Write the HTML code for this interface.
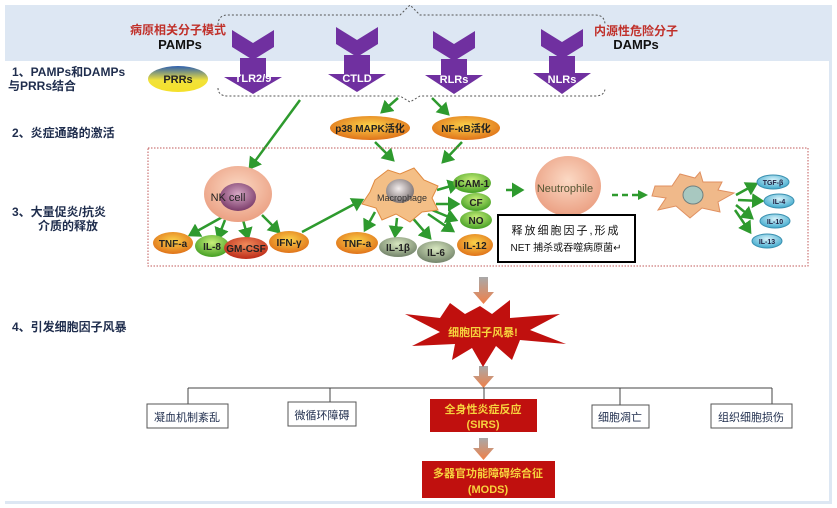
<!DOCTYPE html>
<html><head><meta charset="utf-8"><style>
html,body{margin:0;padding:0;background:#fff;}
svg{display:block;font-family:"Liberation Sans","Noto Sans CJK SC",sans-serif;}
.lbl{font-weight:bold;fill:#1f2d4d;font-size:12px;}
</style></head><body>
<svg width="837" height="508" viewBox="0 0 837 508" xmlns="http://www.w3.org/2000/svg">
<defs>
<marker id="ga" markerWidth="6" markerHeight="6" refX="4" refY="3" orient="auto" markerUnits="strokeWidth"><path d="M0,0 L5,3 L0,6z" fill="#2e9a2e"/></marker>
<linearGradient id="prr" x1="0" y1="0" x2="0" y2="1"><stop offset="0" stop-color="#2d5fb0"/><stop offset="0.55" stop-color="#f2e23a"/><stop offset="1" stop-color="#f4e02a"/></linearGradient>
<radialGradient id="org" cx="0.5" cy="0.4" r="0.6"><stop offset="0" stop-color="#fbd24a"/><stop offset="1" stop-color="#e0731a"/></radialGradient>
<radialGradient id="grn" cx="0.5" cy="0.35" r="0.6"><stop offset="0" stop-color="#c8ef7a"/><stop offset="1" stop-color="#4ea52a"/></radialGradient>
<radialGradient id="red" cx="0.5" cy="0.35" r="0.6"><stop offset="0" stop-color="#f08a5a"/><stop offset="1" stop-color="#c0321e"/></radialGradient>
<radialGradient id="gry" cx="0.5" cy="0.35" r="0.6"><stop offset="0" stop-color="#d8e8c0"/><stop offset="1" stop-color="#7a8a70"/></radialGradient>
<radialGradient id="blu" cx="0.5" cy="0.35" r="0.6"><stop offset="0" stop-color="#d6f2fa"/><stop offset="1" stop-color="#4aaed0"/></radialGradient>
<radialGradient id="cell" cx="0.5" cy="0.4" r="0.6"><stop offset="0" stop-color="#fbd9c4"/><stop offset="1" stop-color="#eba083"/></radialGradient>
<radialGradient id="nuc" cx="0.5" cy="0.4" r="0.6"><stop offset="0" stop-color="#d7a9c6"/><stop offset="1" stop-color="#7b3c6a"/></radialGradient>
<radialGradient id="mnuc" cx="0.45" cy="0.4" r="0.6"><stop offset="0" stop-color="#f4eeee"/><stop offset="1" stop-color="#7a7070"/></radialGradient>
<linearGradient id="darr" x1="0" y1="0" x2="0" y2="1"><stop offset="0" stop-color="#a9a9a9"/><stop offset="1" stop-color="#f08048"/></linearGradient>
</defs>
<rect x="0" y="0" width="837" height="508" fill="#fff"/>
<rect x="5" y="5" width="825" height="56" fill="#dde7f3"/>
<rect x="829" y="5" width="3" height="497" fill="#dde7f3"/>
<rect x="5" y="501" width="827" height="3" fill="#dde7f3"/>

<!-- dashed bracket -->
<path d="M218,25 Q218,15 228,15 L400,15 L410,5 L420,15 L595,15 Q605,15 605,25" fill="none" stroke="#555" stroke-dasharray="2,2"/>
<path d="M218,88 Q218,96 228,96 L400,96 L410,102 L420,96 L595,96 Q605,96 605,88" fill="none" stroke="#555" stroke-dasharray="2,2"/>

<text x="178" y="34" font-size="12" font-weight="bold" fill="#c0302a" text-anchor="middle">病原相关分子模式</text>
<text x="180" y="49" font-size="13" font-weight="bold" fill="#111" text-anchor="middle">PAMPs</text>
<text x="636" y="35" font-size="12" font-weight="bold" fill="#c0302a" text-anchor="middle">内源性危险分子</text>
<text x="636" y="49" font-size="13" font-weight="bold" fill="#111" text-anchor="middle">DAMPs</text>

<!-- purple arrows -->
<g fill="#7030a0">
<g transform="translate(253,0)"><path d="M-21,30 L0,43 L21,30 L21,47 L0,60 L-21,47z"/><rect x="-13" y="58" width="26" height="20"/><path d="M-29,77 L29,77 L0,94z"/><text x="0" y="82" font-size="11" font-weight="bold" fill="#fff" text-anchor="middle">TLR2/9</text></g>
<g transform="translate(357,0)"><path d="M-21,27 L0,40 L21,27 L21,44 L0,57 L-21,44z"/><rect x="-13" y="55" width="26" height="20"/><path d="M-29,74 L29,74 L0,92z"/><text x="0" y="82" font-size="11" font-weight="bold" fill="#fff" text-anchor="middle">CTLD</text></g>
<g transform="translate(454,0)"><path d="M-21,31 L0,44 L21,31 L21,48 L0,61 L-21,48z"/><rect x="-13" y="59" width="26" height="17"/><path d="M-29,75 L29,75 L0,94z"/><text x="0" y="83" font-size="11" font-weight="bold" fill="#fff" text-anchor="middle">RLRs</text></g>
<g transform="translate(562,0)"><path d="M-21,29 L0,42 L21,29 L21,46 L0,59 L-21,46z"/><rect x="-13" y="56" width="26" height="18"/><path d="M-29,73 L29,73 L0,94z"/><text x="0" y="83" font-size="11" font-weight="bold" fill="#fff" text-anchor="middle">NLRs</text></g>
</g>

<ellipse cx="178" cy="79" rx="30" ry="13" fill="url(#prr)"/>
<text x="178" y="83" font-size="11" font-weight="bold" fill="#222" text-anchor="middle">PRRs</text>

<!-- left labels -->
<text x="12" y="76" class="lbl">1、PAMPs和DAMPs</text>
<text x="8" y="90" class="lbl">与PRRs结合</text>
<text x="12" y="137" class="lbl">2、炎症通路的激活</text>
<text x="12" y="216" class="lbl">3、大量促炎/抗炎</text>
<text x="38" y="230" class="lbl">介质的释放</text>
<text x="12" y="331" class="lbl">4、引发细胞因子风暴</text>

<!-- pathway -->
<g stroke="#2e9a2e" stroke-width="2.5" fill="none" marker-end="url(#ga)">
<line x1="300" y1="100" x2="250" y2="168"/>
<line x1="398" y1="98" x2="382" y2="112"/>
<line x1="432" y1="98" x2="448" y2="114"/>
<line x1="375" y1="142" x2="393" y2="160"/>
<line x1="462" y1="142" x2="443" y2="162"/>
<line x1="226" y1="215" x2="190" y2="235"/>
<line x1="225" y1="220" x2="218" y2="238"/>
<line x1="243" y1="220" x2="248" y2="238"/>
<line x1="262" y1="215" x2="279" y2="232"/>
<line x1="302" y1="232" x2="362" y2="200"/>
<line x1="375" y1="212" x2="365" y2="230"/>
<line x1="397" y1="218" x2="395" y2="236"/>
<line x1="410" y1="215" x2="430" y2="238"/>
<line x1="437" y1="190" x2="458" y2="184"/>
<line x1="436" y1="204" x2="458" y2="204"/>
<line x1="432" y1="210" x2="456" y2="220"/>
<line x1="428" y1="214" x2="453" y2="231"/>
<line x1="506" y1="190" x2="522" y2="190"/>
<line x1="736" y1="195" x2="756" y2="184"/>
<line x1="738" y1="200" x2="762" y2="201"/>
<line x1="736" y1="205" x2="752" y2="218"/>
<line x1="735" y1="210" x2="750" y2="232"/>
</g>
<line x1="612" y1="195" x2="640" y2="195" stroke="#2e9a2e" stroke-width="2.5" stroke-dasharray="6,4"/>
<path d="M638,190 L648,195 L638,200z" fill="#2e9a2e"/>

<ellipse cx="370" cy="128" rx="40" ry="12" fill="url(#org)"/>
<text x="370" y="132" font-size="10" font-weight="bold" fill="#222" text-anchor="middle">p38 MAPK活化</text>
<ellipse cx="466" cy="128" rx="34" ry="12" fill="url(#org)"/>
<text x="466" y="132" font-size="10" font-weight="bold" fill="#222" text-anchor="middle">NF-κB活化</text>

<rect x="148" y="148" width="660" height="118" fill="none" stroke="#c05a5a" stroke-dasharray="1.5,1.5"/>

<!-- NK cell -->
<ellipse cx="238" cy="194" rx="34" ry="28" fill="url(#cell)"/>
<ellipse cx="238" cy="197" rx="18" ry="14" fill="url(#nuc)"/>
<text x="228" y="201" font-size="11" fill="#222" text-anchor="middle">NK cell</text>
<!-- macrophage -->
<path d="M375,180 L388,170 L400,174 L414,168 L424,180 L438,186 L432,198 L438,210 L422,212 L410,222 L396,214 L382,220 L376,208 L362,204 L370,192z" fill="#f4bf86" stroke="#e08a40"/>
<ellipse cx="400" cy="191" rx="14" ry="12" fill="url(#mnuc)"/>
<text x="402" y="201" font-size="9" fill="#333" text-anchor="middle">Macrophage</text>
<!-- neutrophile -->
<ellipse cx="568" cy="186" rx="33" ry="30" fill="url(#cell)"/>
<text x="565" y="192" font-size="11" fill="#553" text-anchor="middle">Neutrophile</text>
<!-- dendritic -->
<path d="M655,186 L672,186 L680,174 L695,178 L700,172 L703,182 L722,182 L718,190 L734,193 L718,202 L720,212 L702,208 L690,218 L676,206 L658,210 L666,198 L652,196z" fill="#f0b98a" stroke="#e09060"/>
<ellipse cx="693" cy="195" rx="10" ry="9" fill="#a8c8c0" stroke="#708080"/>

<!-- mediators -->
<g font-size="10" font-weight="bold" text-anchor="middle" fill="#222">
<ellipse cx="173" cy="243" rx="20" ry="11" fill="url(#org)"/><text x="173" y="247">TNF-a</text>
<ellipse cx="212" cy="246" rx="17" ry="11" fill="url(#grn)"/><text x="212" y="250">IL-8</text>
<ellipse cx="246" cy="248" rx="22" ry="11" fill="url(#red)"/><text x="246" y="252">GM-CSF</text>
<ellipse cx="289" cy="242" rx="20" ry="11" fill="url(#org)"/><text x="289" y="246">IFN-γ</text>
<ellipse cx="357" cy="243" rx="21" ry="11" fill="url(#org)"/><text x="357" y="247">TNF-a</text>
<ellipse cx="398" cy="247" rx="19" ry="10" fill="url(#gry)"/><text x="398" y="251">IL-1β</text>
<ellipse cx="436" cy="252" rx="19" ry="11" fill="url(#gry)"/><text x="436" y="256">IL-6</text>
<ellipse cx="472" cy="183" rx="19" ry="10" fill="url(#grn)"/><text x="472" y="187">ICAM-1</text>
<ellipse cx="476" cy="202" rx="15" ry="9" fill="url(#grn)"/><text x="476" y="206">CF</text>
<ellipse cx="476" cy="220" rx="16" ry="9" fill="url(#grn)"/><text x="476" y="224">NO</text>
<ellipse cx="475" cy="245" rx="18" ry="11" fill="url(#org)"/><text x="475" y="249">IL-12</text>
</g>
<g font-size="7" font-weight="bold" text-anchor="middle" fill="#224">
<ellipse cx="773" cy="182" rx="16" ry="7" fill="url(#blu)" stroke="#3a90b0"/><text x="773" y="185">TGF-β</text>
<ellipse cx="779" cy="201" rx="15" ry="7" fill="url(#blu)" stroke="#3a90b0"/><text x="779" y="204">IL-4</text>
<ellipse cx="775" cy="221" rx="15" ry="7" fill="url(#blu)" stroke="#3a90b0"/><text x="775" y="224">IL-10</text>
<ellipse cx="767" cy="241" rx="15" ry="7" fill="url(#blu)" stroke="#3a90b0"/><text x="767" y="244">IL-13</text>
</g>

<rect x="498" y="215" width="137" height="47" fill="#fff" stroke="#000" stroke-width="2"/>
<text x="566" y="234" font-size="11" fill="#111" text-anchor="middle" letter-spacing="2">释放细胞因子,形成</text>
<text x="566" y="251" font-size="10" fill="#111" text-anchor="middle">NET 捕杀或吞噬病原菌↵</text>

<!-- lower -->
<g fill="url(#darr)">
<path d="M479,277 L488,277 L488,292 L494,292 L483.5,304 L473,292 L479,292z"/>
<path d="M479,366 L488,366 L488,376 L494,376 L483.5,388 L473,376 L479,376z"/>
<path d="M479,438 L488,438 L488,448 L494,448 L483.5,460 L473,448 L479,448z"/>
</g>
<path d="M405,314 L440,318 L450,303 L465,314 L480,306 L492,314 L510,300 L510,318 L560,314 L530,330 L566,344 L520,340 L512,360 L496,346 L483,367 L472,348 L452,360 L455,344 L412,346 L440,332z" fill="#c0100e"/>
<text x="483" y="336" font-size="11" font-weight="bold" fill="#f7d23e" text-anchor="middle">细胞因子风暴!</text>

<g stroke="#444" stroke-width="1" fill="none">
<line x1="188" y1="388" x2="772" y2="388"/>
<line x1="188" y1="388" x2="188" y2="404"/>
<line x1="330" y1="388" x2="330" y2="402"/>
<line x1="484" y1="388" x2="484" y2="399"/>
<line x1="620" y1="388" x2="620" y2="406"/>
<line x1="772" y1="388" x2="772" y2="404"/>
</g>
<g font-size="11" text-anchor="middle" fill="#1f2d4d">
<rect x="147" y="404" width="81" height="24" fill="#fff" stroke="#555"/><text x="187" y="421">凝血机制紊乱</text>
<rect x="288" y="402" width="68" height="24" fill="#fff" stroke="#555"/><text x="322" y="419">微循环障碍</text>
<rect x="592" y="405" width="57" height="23" fill="#fff" stroke="#555"/><text x="620" y="421">细胞凋亡</text>
<rect x="711" y="404" width="81" height="24" fill="#fff" stroke="#555"/><text x="751" y="421">组织细胞损伤</text>
</g>
<rect x="430" y="399" width="107" height="33" fill="#c0100e"/>
<text x="483" y="413" font-size="11" font-weight="bold" fill="#f7d23e" text-anchor="middle">全身性炎症反应</text>
<text x="483" y="428" font-size="11" font-weight="bold" fill="#f7d23e" text-anchor="middle">(SIRS)</text>
<rect x="422" y="461" width="133" height="37" fill="#c0100e"/>
<text x="488" y="477" font-size="11" font-weight="bold" fill="#f7d23e" text-anchor="middle">多器官功能障碍综合征</text>
<text x="488" y="493" font-size="11" font-weight="bold" fill="#f7d23e" text-anchor="middle">(MODS)</text>
</svg>
</body></html>
